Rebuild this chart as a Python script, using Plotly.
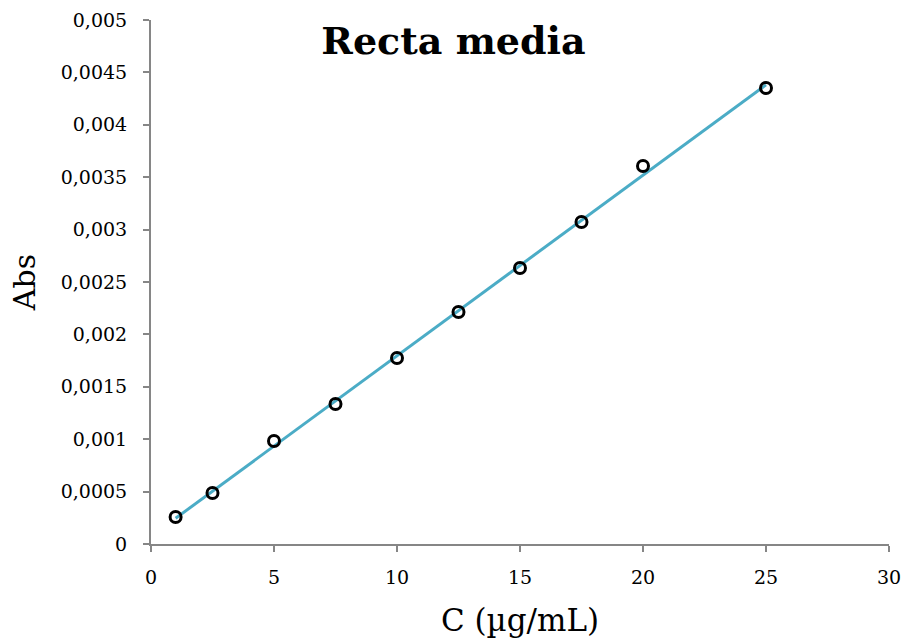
import numpy as np
import plotly.graph_objects as go

conc = [1, 2.5, 5, 7.5, 10, 12.5, 15, 17.5, 20, 25]
abs_vals = [0.000258, 0.000487, 0.000983, 0.001336, 0.001775, 0.002214, 0.002634, 0.003073, 0.003607, 0.004351]

y_tick_vals = [0, 0.0005, 0.001, 0.0015, 0.002, 0.0025, 0.003, 0.0035, 0.004, 0.0045, 0.005]
y_tick_text = ["0", "0,0005", "0,001", "0,0015", "0,002", "0,0025", "0,003", "0,0035", "0,004", "0,0045", "0,005"]
x_tick_vals = [0, 5, 10, 15, 20, 25, 30]

slope, intercept = np.polyfit(conc, abs_vals, 1)
fit_x = [min(conc), max(conc)]
fit_y = [slope * v + intercept for v in fit_x]

font_family = "DejaVu Serif, Liberation Serif, serif"

fig = go.Figure()
fig.add_trace(go.Scatter(x=fit_x, y=fit_y, mode="lines",
                         line=dict(color="#4BACC6", width=3), showlegend=False))
fig.add_trace(go.Scatter(x=conc, y=abs_vals, mode="markers",
                         marker=dict(symbol="circle-open", size=11, color="black",
                                     line=dict(width=3, color="black")),
                         showlegend=False))

fig.update_layout(
    width=907, height=644,
    margin=dict(l=151, r=18, t=20, b=100, autoexpand=False),
    plot_bgcolor="white", paper_bgcolor="white",
    font=dict(family=font_family, color="black", size=19),
    title=dict(text="<b>Recta media</b>", x=0.5, xanchor="center", y=0.937, yanchor="middle",
               font=dict(family=font_family, size=38, color="black")),
    xaxis=dict(range=[0, 30], tickvals=x_tick_vals, showgrid=False, zeroline=False,
               showline=True, linecolor="#868686", linewidth=2,
               ticks="outside", ticklen=6, tickcolor="#868686", tickwidth=2,
               tickfont=dict(size=19), ticklabelstandoff=9, automargin=False,
               title=dict(text="C (µg/mL)", font=dict(size=31), standoff=23)),
    yaxis=dict(range=[0, 0.005], tickvals=y_tick_vals, ticktext=y_tick_text,
               showgrid=False, zeroline=False,
               showline=True, linecolor="#868686", linewidth=2,
               ticks="outside", ticklen=6, tickcolor="#868686", tickwidth=2,
               tickfont=dict(size=19), ticklabelstandoff=12, automargin=False,
               title=dict(text="Abs", font=dict(size=30), standoff=16)),
)

fig.write_html("out.html")
